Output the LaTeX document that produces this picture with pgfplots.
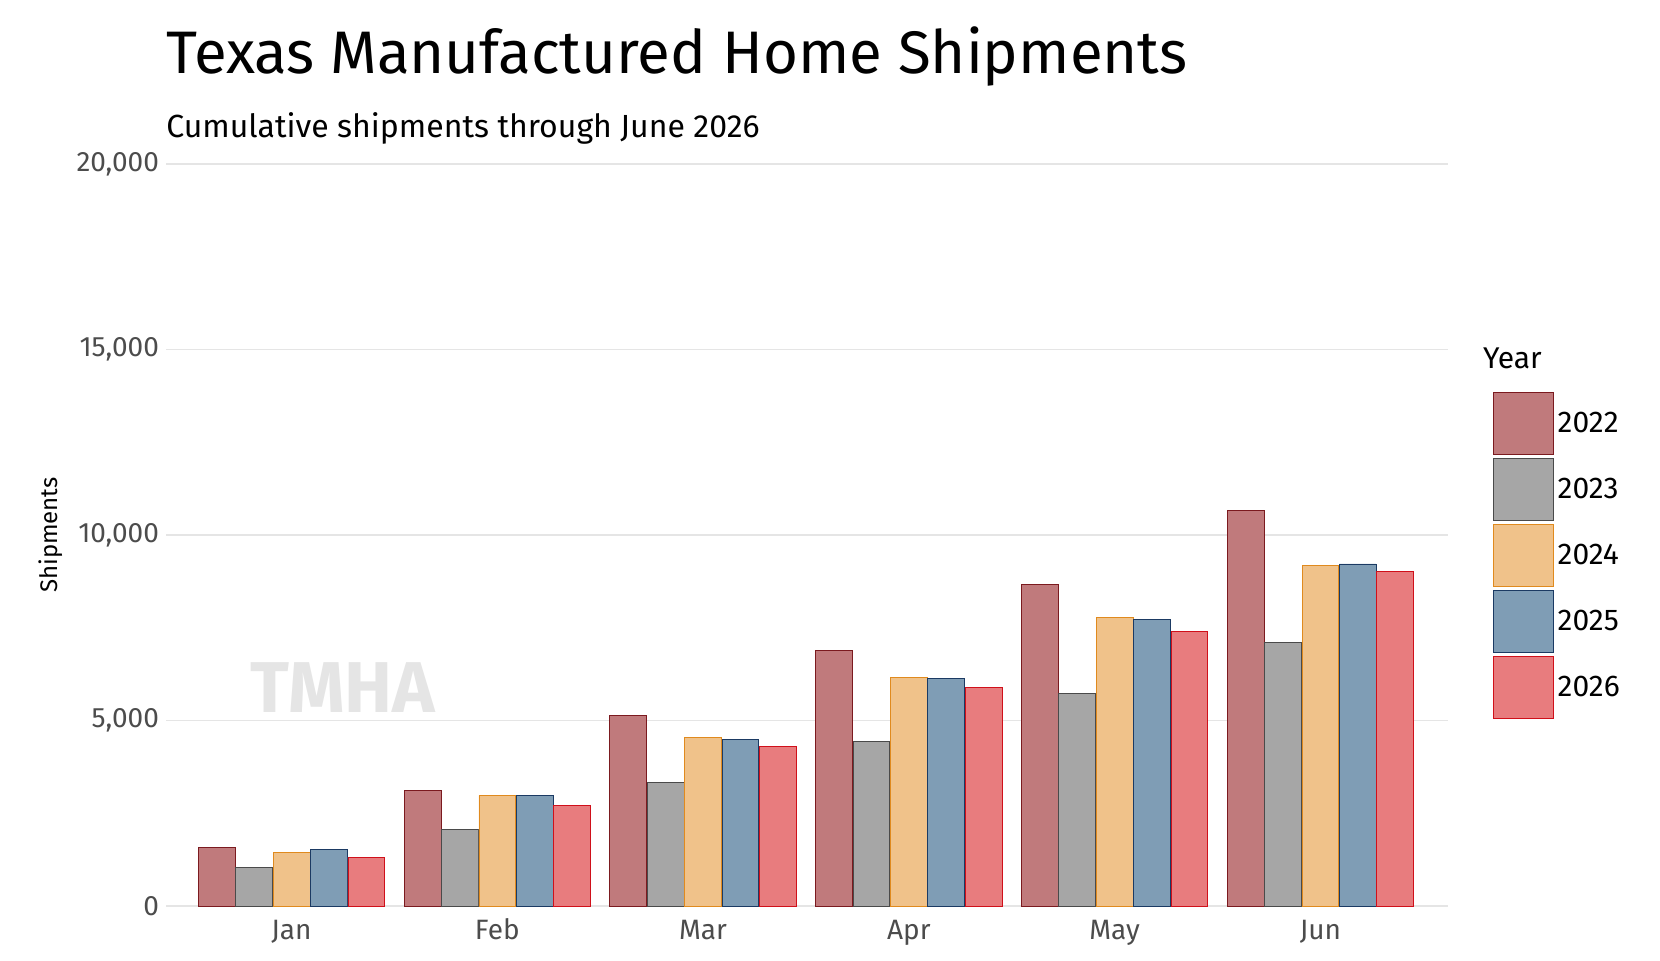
\documentclass[border=0pt]{standalone}
\usepackage{pgfplots}
\pgfplotsset{compat=1.18}
\usepackage{fontspec}
\setmainfont{Fira Sans}
\definecolor{f22}{HTML}{C07A7C}\definecolor{e22}{HTML}{7B1A1F}
\definecolor{f23}{HTML}{A6A6A6}\definecolor{e23}{HTML}{4A4A4A}
\definecolor{f24}{HTML}{F0C28A}\definecolor{e24}{HTML}{E08A1E}
\definecolor{f25}{HTML}{7F9DB5}\definecolor{e25}{HTML}{1B3A63}
\definecolor{f26}{HTML}{E87C7E}\definecolor{e26}{HTML}{D0101A}
\begin{document}
\begin{tikzpicture}
\path[use as bounding box] (-83pt,-27pt) rectangle (747pt,453pt);
\begin{axis}[scale only axis, width=641pt, height=371pt,
 ybar=0.3pt, bar width=18.4pt,
 xmin=-0.61, xmax=5.62, ymin=0, ymax=20000,
 xtick={0,...,5}, xticklabels={Jan,Feb,Mar,Apr,May,Jun},
 xticklabel style={text height=9pt, text depth=2pt},
 ytick={0,5000,10000,15000,20000},
 scaled y ticks=false,
 /pgf/number format/assume math mode=true,
 yticklabel style={/pgf/number format/.cd,fixed,1000 sep={,}},
 tick label style={font=\fontsize{14}{14}\selectfont, text=black!70},
 ylabel={Shipments}, ylabel style={font=\fontsize{12}{12}\selectfont},
 axis line style={draw=none}, tick style={draw=none},
 ymajorgrids, grid style={gray!20, line width=0.8pt},
 legend style={at={(1.03,0.70)}, anchor=north west, draw=none, font=\fontsize{15}{15}\selectfont, row sep=0pt,
   nodes={minimum height=33pt, inner sep=2pt}},
 legend image code/.code={\draw[#1] (0pt,-15pt) rectangle (30pt,16pt);},
 legend cell align=left,
]
\node[anchor=center, text=gray!20, font=\bfseries\fontsize{36}{36}\selectfont] at (axis cs:0.25,5900) {TMHA};
\addplot[fill=f22, draw=e22] coordinates {(0,1570)(1,3120)(2,5130)(3,6900)(4,8670)(5,10660)};
\addplot[fill=f23, draw=e23] coordinates {(0,1050)(1,2060)(2,3320)(3,4430)(4,5740)(5,7100)};
\addplot[fill=f24, draw=e24] coordinates {(0,1450)(1,2980)(2,4540)(3,6170)(4,7780)(5,9170)};
\addplot[fill=f25, draw=e25] coordinates {(0,1530)(1,2990)(2,4490)(3,6130)(4,7720)(5,9220)};
\addplot[fill=f26, draw=e26] coordinates {(0,1320)(1,2710)(2,4290)(3,5900)(4,7400)(5,9020)};
\legend{2022,2023,2024,2025,2026}
\end{axis}
\node[anchor=west, font=\fontsize{15}{15}\selectfont] at (655pt,274pt) {Year};
\node[anchor=base west, font=\fontsize{30}{30}\selectfont, inner sep=0pt] at (0pt,416pt) {Texas Manufactured Home Shipments};
\node[anchor=base west, font=\fontsize{16}{16}\selectfont, inner sep=0pt] at (0pt,384pt) {Cumulative shipments through June 2026};
\end{tikzpicture}
\end{document}
